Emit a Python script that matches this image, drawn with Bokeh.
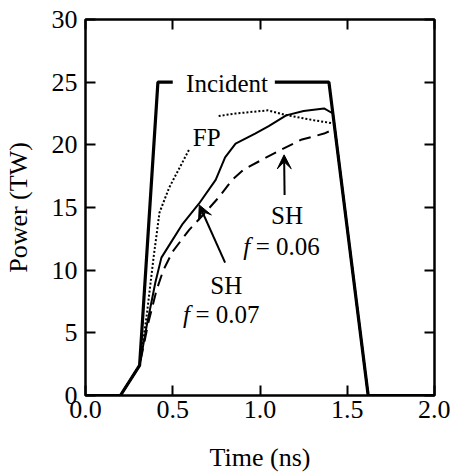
import math
from bokeh.plotting import figure
from bokeh.models import Range1d, FixedTicker, LinearAxis, Label, Arrow, VeeHead
from bokeh.embed import file_html
from bokeh.resources import INLINE

nan = float("nan")

# Incident pulse (gap where the "Incident" label sits)
t_inc = [0.0, 0.2, 0.31, 0.415, 0.50, nan, 1.085, 1.395, 1.62, 2.0]
p_inc = [0.0, 0.0, 2.4, 25.0, 25.0, nan, 25.0, 25.0, 0.0, 0.0]

# FP (dotted, gap under the "FP" label)
t_fp = [0.0, 0.2, 0.31, 0.35, 0.39, 0.424, 0.48, 0.593, nan, 0.763, 0.859, 1.046, 1.158, 1.31, 1.425, 1.62, 2.0]
p_fp = [0.0, 0.0, 2.4, 6.3, 11.0, 14.6, 16.6, 19.6, nan, 22.3, 22.5, 22.75, 22.35, 21.96, 21.7, 0.0, 0.0]

# SH f = 0.07 (solid)
t_sh7 = [0.0, 0.2, 0.31, 0.35, 0.40, 0.435, 0.48, 0.557, 0.65, 0.746, 0.80, 0.86, 0.972, 1.05, 1.15, 1.25, 1.367, 1.418, 1.62, 2.0]
p_sh7 = [0.0, 0.0, 2.4, 5.5, 9.0, 11.0, 12.0, 13.7, 15.3, 17.2, 19.0, 20.1, 20.9, 21.5, 22.35, 22.7, 22.9, 22.5, 0.0, 0.0]

# SH f = 0.06 (dashed)
t_sh6 = [0.0, 0.2, 0.31, 0.36, 0.407, 0.446, 0.50, 0.593, 0.68, 0.763, 0.84, 0.904, 1.01, 1.12, 1.235, 1.367, 1.40, 1.431, 1.62, 2.0]
p_sh6 = [0.0, 0.0, 2.4, 5.8, 8.4, 10.0, 11.5, 13.2, 14.5, 15.8, 17.2, 18.0, 18.8, 19.6, 20.4, 20.9, 21.1, 21.0, 0.0, 0.0]

x_ticks = [0.0, 0.5, 1.0, 1.5, 2.0]
y_ticks = [0, 5, 10, 15, 20, 25, 30]

FONT = "Liberation Serif"

p = figure(width=450, height=474, output_backend="svg", toolbar_location=None,
           x_range=Range1d(0, 2), y_range=Range1d(0, 30),
           min_border_left=80, min_border_right=16, min_border_top=19, min_border_bottom=78)
p.grid.visible = False
p.outline_line_color = "black"
p.outline_line_width = 2.5
p.background_fill_color = "white"
p.border_fill_color = "white"

p.xaxis.axis_label = "Time (ns)"
p.yaxis.axis_label = "Power (TW)"
p.xaxis.ticker = FixedTicker(ticks=x_ticks)
p.yaxis.ticker = FixedTicker(ticks=y_ticks)
p.xaxis.major_label_overrides = {t: f"{t:.1f}" for t in x_ticks}
p.yaxis.major_label_overrides = {t: f"{t}" for t in y_ticks}

for ax in (p.xaxis[0], p.yaxis[0]):
    ax.axis_line_color = None
    ax.major_tick_in = 10
    ax.major_tick_out = 0
    ax.major_tick_line_width = 2
    ax.major_tick_line_color = "black"
    ax.minor_tick_line_color = None
    ax.major_label_text_font = FONT
    ax.major_label_text_font_size = "26px"
    ax.major_label_text_color = "black"
    ax.axis_label_text_font = FONT
    ax.axis_label_text_font_size = "26px"
    ax.axis_label_text_font_style = "normal"
    ax.axis_label_text_color = "black"
p.xaxis.major_label_standoff = 5
p.xaxis.axis_label_standoff = 22
p.yaxis.major_label_standoff = 8
p.yaxis.axis_label_standoff = 16

top = LinearAxis(ticker=FixedTicker(ticks=x_ticks))
right = LinearAxis(ticker=FixedTicker(ticks=y_ticks))
top.major_label_overrides = {t: "" for t in x_ticks}
right.major_label_overrides = {t: "" for t in y_ticks}
for ax in (top, right):
    ax.axis_line_color = None
    ax.major_tick_in = 10
    ax.major_tick_out = 0
    ax.major_tick_line_width = 2
    ax.minor_tick_line_color = None
    ax.major_label_standoff = 0
p.add_layout(top, "above")
p.add_layout(right, "right")

p.line(t_inc, p_inc, line_color="black", line_width=3.2)
p.line(t_fp, p_fp, line_color="black", line_width=2, line_dash="2 2")
p.line(t_sh7, p_sh7, line_color="black", line_width=2)
p.line(t_sh6, p_sh6, line_color="black", line_width=2, line_dash="12 7")

def lab(x, y, text, align="center", style="normal", size="25px"):
    p.add_layout(Label(x=x, y=y, text=text, text_font=FONT, text_font_size=size,
                       text_font_style=style, text_align=align, text_baseline="middle",
                       text_color="black"))

lab(0.811, 24.9, "Incident")
lab(0.695, 20.6, "FP")
lab(1.155, 14.4, "SH")
lab(0.904, 11.9, "f", align="left", style="italic")
lab(0.975, 11.9, "= 0.06", align="left")
lab(0.807, 8.8, "SH")
lab(0.559, 6.5, "f", align="left", style="italic")
lab(0.630, 6.5, "= 0.07", align="left")

for xs, ys, xe, ye in [(1.141, 16.0, 1.138, 19.2), (0.80, 10.6, 0.652, 15.2)]:
    p.add_layout(Arrow(end=VeeHead(size=14, fill_color="black", line_color="black", line_width=1),
                       x_start=xs, y_start=ys, x_end=xe, y_end=ye,
                       line_color="black", line_width=2))

open("out.html", "w").write(file_html(p, INLINE))
